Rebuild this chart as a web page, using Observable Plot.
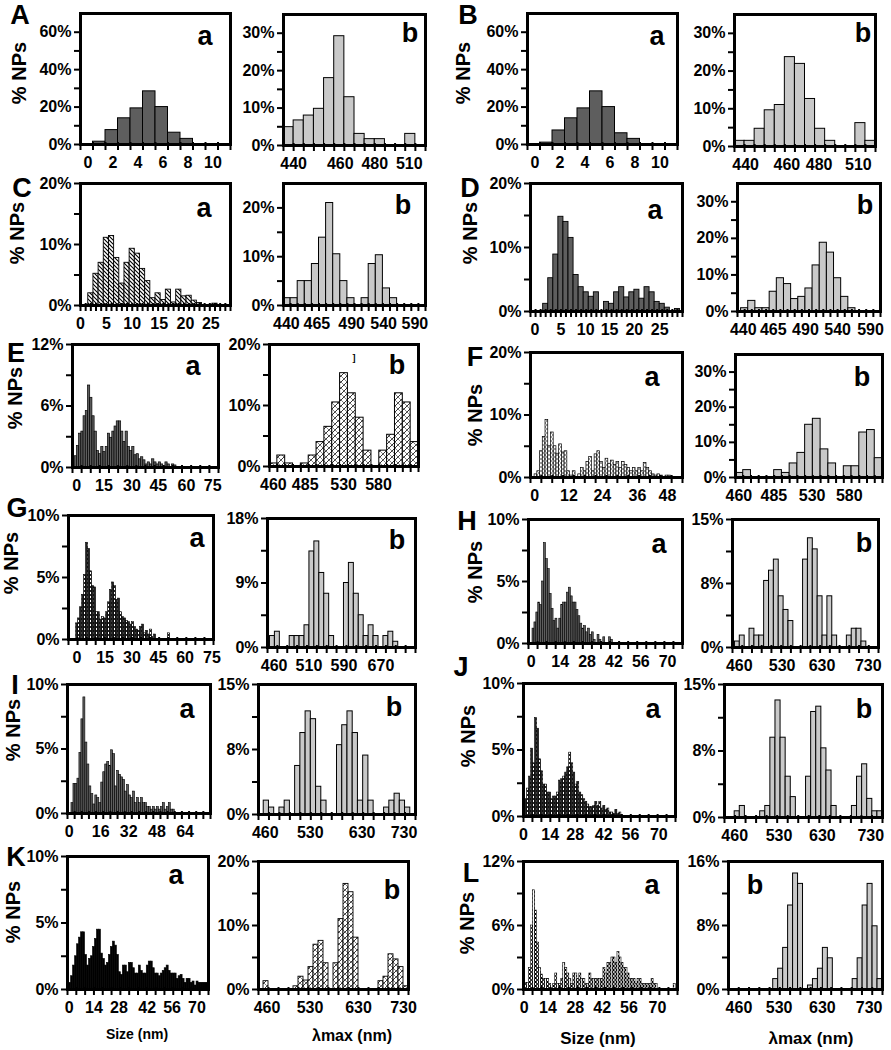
<!DOCTYPE html>
<html><head><meta charset="utf-8">
<script src="https://cdn.jsdelivr.net/npm/d3@7"></script>
<script src="https://cdn.jsdelivr.net/npm/@observablehq/plot@0.6"></script>
<style>
body{margin:0;background:#fff;}
#fig{position:relative;width:891px;height:1050px;background:#fff;font-family:"Liberation Sans",Arial,sans-serif;font-weight:bold;color:#000;overflow:hidden}
.lbl{position:absolute;transform:translate(-50%,-50%);white-space:nowrap;line-height:1}
.ylab{position:absolute;transform:translate(-50%,-50%) rotate(-90deg);white-space:nowrap;line-height:1;font-size:20px}
.panel{position:absolute}
</style></head><body>
<svg width="0" height="0" style="position:absolute">
<defs>
<pattern id="hatch" patternUnits="userSpaceOnUse" width="4" height="4">
<rect width="4" height="4" fill="#fff"/>
<path d="M-1,-1L5,5M3,-1L5,1M-1,3L1,5" stroke="#000" stroke-width="1.1"/>
</pattern>
<pattern id="cross" patternUnits="userSpaceOnUse" width="6" height="6">
<rect width="6" height="6" fill="#fff"/>
<path d="M-1,7L7,-1M-1,1L1,-1M5,7L7,5" stroke="#000" stroke-width="0.8"/>
<path d="M0,0L6,6" stroke="#000" stroke-width="0.5"/>
</pattern>
<pattern id="check" patternUnits="userSpaceOnUse" width="4" height="4">
<rect width="4" height="4" fill="#fff"/>
<rect x="0" y="0" width="2" height="2" fill="#9a9a9a"/>
<rect x="2" y="2" width="2" height="2" fill="#9a9a9a"/>
</pattern>
<pattern id="brick" patternUnits="userSpaceOnUse" width="3" height="4">
<rect width="3" height="4" fill="#222"/>
<rect x="1" y="1" width="1" height="2" fill="#fff"/>
</pattern>
<pattern id="brickL" patternUnits="userSpaceOnUse" width="3" height="4">
<rect width="3" height="4" fill="#fff"/>
<rect x="0" y="0" width="1" height="2" fill="#000"/>
<rect x="2" y="2" width="1" height="2" fill="#333"/>
</pattern>
</defs>
</svg>
<div id="fig"></div>
<script>
// ---- values: % of NPs per histogram bin ----
const A_size = [1.5, 7.7, 14, 19.3, 28.4, 20, 6.3, 3];
const A_lmax = [4.9, 6.7, 8, 9.8, 18, 29.2, 12.9, 3.1, 1.7, 1.7, 0, 0, 3.1];
const B_size = [1, 7.5, 14, 19.3, 28.4, 20, 6, 3];
const B_lmax = [1.5, 1.5, 4.7, 9.6, 11, 23.7, 21.9, 12.6, 4.7, 1.5, 0, 0, 6.2, 1.5];
const C_size = [2, 5.2, 7, 11.1, 11.4, 7.8, 3.6, 7, 9.3, 8.5, 6, 4, 1.2, 2, 0.9, 2.6, 0.5, 2.6, 1.5, 1.6, 0.8, 0.4, 0, 0, 0.3];
const C_lmax = [1.5, 1.5, 5, 5, 8.5, 13.9, 21, 10.5, 5, 1.5, 0, 1.5, 8.5, 10.3, 3.5, 1.5];
const D_size = [1.2, 5.2, 8.9, 14.8, 14, 11.5, 5.7, 3.8, 3, 2.3, 3, 0, 1.5, 1.2, 3, 3.8, 2.2, 3, 3.4, 2, 3.8, 3, 1.5, 1.2, 0.6, 0, 0.4];
const D_lmax = [0.9, 2.9, 0.9, 0.9, 5.4, 9.1, 7.5, 3.4, 4, 6.3, 12.6, 18.8, 16.1, 9.1, 4, 0.9];
const E_size = [1.1, 2.1, 3.3, 3.5, 5, 5.5, 8, 6.8, 5, 3.5, 1.6, 1.3, 2, 1.5, 2, 3.3, 2.9, 3.5, 4, 4.5, 4.5, 3.5, 2.5, 3.5, 2, 1.6, 2, 1.2, 1.3, 0.8, 1, 0.7, 0.3, 0.5, 0.3, 0.8, 0.5, 0.3, 0.5, 0.3, 0, 0.5, 0.3, 0, 0.3, 0.2];
const E_lmax = [0.5, 1.8, 0.5, 0, 0.5, 1.8, 4, 6.5, 10.5, 15.3, 12, 8, 2.6, 0, 2.6, 5.2, 12, 10.5, 4];
const F_size = [0.5, 1, 4.2, 6.5, 9.2, 5, 7.2, 5, 3.8, 5.3, 4, 4.2, 1, 0.3, 1, 0, 0.5, 1.5, 1, 2.5, 3.3, 1, 3.7, 4.2, 2.5, 1.5, 3, 2.2, 2.7, 2, 2.5, 1.5, 2.5, 2, 1.5, 1, 1.5, 1, 1.5, 1, 2.3, 1.5, 1, 0.5, 0.3, 0.5, 0.3, 0, 0.3, 0.3];
const F_lmax = [1.3, 2.1, 0, 0, 0, 2.1, 1.3, 4, 7, 15, 16.7, 8, 4, 0, 3.2, 3.2, 12.8, 13.5, 5.5];
const G_size = [1.3, 1.7, 2.6, 3.6, 5.2, 7.8, 7.3, 5.5, 4.3, 4.2, 2.2, 2.2, 1.6, 1.8, 1.7, 2.2, 3, 4, 4.6, 4.3, 3.2, 3.3, 2.2, 1.8, 1.7, 1.5, 1.4, 1.2, 1.4, 1, 0.8, 0.7, 1, 1.2, 0.5, 0.7, 0.4, 0.8, 0.2, 0.4, 0, 0, 0, 0, 0, 0, 0.5];
const G_lmax = [1.6, 2.2, 0, 0, 1.6, 1.6, 1.6, 3.1, 13.4, 14.8, 10.4, 7.5, 1.6, 0, 0, 9, 11.8, 7.5, 4.5, 1.6, 3.1, 1.6, 0, 1.6, 2.2, 0.8];
const H_size = [1.2, 1.7, 2.5, 3.3, 3.1, 5, 8.1, 6.8, 6, 4, 2.8, 1.8, 2, 1.2, 2, 3.1, 3.3, 3.3, 4.1, 4.5, 3.8, 3.3, 3.3, 2.7, 2.2, 1.6, 1.2, 1.4, 0.9, 1.2, 0.7, 0.9, 0.3, 0, 0.7, 0.3, 0, 0.5, 0, 0, 0.5, 0.3];
const H_lmax = [0.7, 1.4, 0, 2.2, 1.4, 1.4, 7.8, 9, 10.3, 6, 4.4, 3.1, 0, 0, 10.3, 12.8, 11.5, 6, 1.4, 6, 1.4, 0, 0, 1.4, 2.2, 2.2, 0.7];
const I_size = [0.8, 2.3, 2.3, 2.7, 4.7, 7.3, 9, 5.5, 3.8, 2.1, 1.5, 0.7, 1.4, 1.2, 0.8, 2.4, 3.2, 3.8, 4, 3.7, 4.9, 4.6, 2.1, 3.3, 3, 2.8, 2.6, 1.7, 2.2, 1.4, 1.2, 1.7, 0.8, 1.2, 0.8, 1.2, 0.8, 0.8, 0.5, 0.5, 0.3, 0.5, 0.3, 0.5, 0.3, 0.5, 0.8, 0.3, 0.5, 0.8, 0.3, 0.3];
const I_lmax = [0, 1.6, 0.8, 0, 0.8, 1.6, 0, 5.6, 9.4, 11.9, 11, 3.2, 1.6, 0, 0, 8, 10.3, 11.9, 9.4, 1.6, 6.8, 1.6, 0, 0, 0.8, 1.6, 2.4, 1.6, 0.8];
const J_size = [1.3, 2.1, 3, 5.1, 4, 7.4, 6.6, 4.3, 3.4, 2.4, 2.4, 1.8, 1.8, 1.3, 1.5, 1.5, 1.8, 2.7, 2.8, 3, 3.3, 3.7, 4.8, 4, 3.3, 2.4, 2.6, 1.8, 1.6, 1.3, 1.1, 0.9, 0.7, 0.7, 0.8, 1.1, 0.8, 1.1, 0.6, 0.8, 0.5, 0.6, 0.3, 0.3, 0.2, 0.5, 0.2, 0.3];
const J_lmax = [0, 0, 0.7, 1.3, 0, 0, 0, 0.7, 1.3, 9, 13.2, 9, 4.6, 2.3, 0, 0, 4.6, 11.9, 12.5, 7.8, 5.3, 1.3, 0, 0, 0, 1.3, 4.6, 6, 2.1, 0.7, 0.7];
const K_size = [0.5, 1, 1.8, 2.5, 3.4, 3.9, 4.3, 4.3, 2.6, 1.8, 2.3, 2.5, 3.2, 3.8, 4.5, 4.5, 2.7, 2.3, 1.8, 2, 2.6, 3.2, 3.6, 3.3, 2.6, 1.3, 1.1, 1.8, 1.8, 1.3, 2, 2, 1.6, 1.2, 1.2, 1.8, 1.4, 1.2, 1.2, 1.8, 2.1, 2.1, 1.6, 1.2, 1.2, 1, 1.2, 1.4, 1.6, 1.8, 1.4, 1.2, 1.2, 1.2, 0.8, 1, 1.1, 0.8, 0.5, 0.8, 0.8, 0.5, 0.6, 0.3, 0.6, 0.5, 0.5, 0.5, 0.5, 0.5];
const K_lmax = [0, 1.3, 0, 0, 0, 0, 0, 0.5, 2, 1.4, 3.5, 7, 7.6, 4.1, 0, 4.1, 11, 16.5, 15.2, 8.1, 0, 0, 0, 0, 1.3, 2, 5.5, 4.7, 3.5, 0.5];
const L_size = [0.6, 0.6, 2, 6, 9.3, 7.4, 4.4, 2, 1.4, 1, 1, 1, 0.5, 0, 0.5, 1.5, 0.5, 0.5, 1, 2.5, 2, 1.5, 1, 0.5, 1.5, 1.5, 1, 1.5, 1, 1, 0.5, 0.5, 1.5, 1, 1, 1, 1, 1, 1, 2, 1.5, 2.5, 2.5, 3, 3, 2.5, 3.5, 3, 2.5, 2, 2, 1.5, 1, 1, 1, 0.5, 1, 1, 0.5, 0.5, 0.5, 0.5, 0.5, 1, 0.5, 0.5, 0, 0, 0, 0, 0, 0, 0, 0, 0.5];
const L_lmax = [0, 0, 0, 0, 0, 0, 0, 0, 0, 1.3, 2.6, 5.2, 10.5, 14.5, 13.2, 0, 0.5, 1.3, 2.6, 5.2, 3.9, 0, 0, 0, 0, 1.3, 3.9, 10.5, 13.2, 7.9, 1.3];

// ---- tick labels ----
const sizeTicks10 = ["0", "2", "4", "6", "8", "10"];
const sizeTicks25 = ["0", "5", "10", "15", "20", "25"];
const sizeTicks75 = ["0", "15", "30", "45", "60", "75"];
const sizeTicks48 = ["0", "12", "24", "36", "48"];
const sizeTicks70 = ["0", "14", "28", "42", "56", "70"];
const sizeTicks64 = ["0", "16", "32", "48", "64"];
const lmaxTicks510 = ["440", "460", "480", "510"];
const lmaxTicks590 = ["440", "465", "490", "540", "590"];
const lmaxTicks580 = ["460", "485", "530", "580"];
const lmaxTicks670 = ["460", "510", "590", "670"];
const lmaxTicks730 = ["460", "530", "630", "730"];
const pct70 = ["0%", "20%", "40%", "60%"];
const pct35 = ["0%", "10%", "20%", "30%"];
const pct20 = ["0%", "10%", "20%"];
const pct12 = ["0%", "6%", "12%"];
const pct10 = ["0%", "5%", "10%"];
const pct18 = ["0%", "9%", "18%"];
const pct15 = ["0%", "8%", "15%"];
const pct16 = ["0%", "8%", "16%"];

// ---- layout (pixel frames, bin geometry in bin units, fills) ----
const FILL = {dark: "#5e5e5e", light: "#c9c9c9", hatch: "url(#hatch)", cross: "url(#cross)", check: "url(#check)", brick: "url(#brick)", brickL: "url(#brickL)", black: "#000"};
const Y70 = {ymax: 70, ymaj: [0, 20, 40, 60], ymin: [10, 30, 50], yt: pct70};
const Y35 = {ymax: 35, ymaj: [0, 10, 20, 30], ymin: [5, 15, 25], yt: pct35};
const Y20 = {ymax: 20, ymaj: [0, 10, 20], ymin: [5, 15], yt: pct20};
const Y25 = {ymax: 25, ymaj: [0, 10, 20], ymin: [5, 15], yt: pct20};
const Y12 = {ymax: 12, ymaj: [0, 6, 12], ymin: [3, 9], yt: pct12};
const Y10 = {ymax: 10, ymaj: [0, 5, 10], ymin: [2.5, 7.5], yt: pct10};
const Y18 = {ymax: 18, ymaj: [0, 9, 18], ymin: [4.5, 13.5], yt: pct18};
const Y15 = {ymax: 15, ymaj: [0, 7.5, 15], ymin: [3.75, 11.25], yt: pct15};
const Y16 = {ymax: 16, ymaj: [0, 8, 16], ymin: [4, 12], yt: pct16};

const panels = [
  {h: A_size, frame: [80, 13, 230, 144], D: 12, x0: 1, nt: 12, xt: sizeTicks10, xp: [0.6, 2.6, 4.6, 6.6, 8.6, 10.6], ...Y70, fill: "dark", sw: 1},
  {h: A_lmax, frame: [283, 14, 425, 145], D: 14, x0: 0, nt: 14, xt: lmaxTicks510, xp: [1.0, 5.6, 9.0, 12.4], ...Y35, fill: "light", sw: 1},
  {h: B_size, frame: [527, 13, 677, 144], D: 12, x0: 1, nt: 12, xt: sizeTicks10, xp: [0.6, 2.6, 4.6, 6.6, 8.6, 10.6], ...Y70, fill: "dark", sw: 1},
  {h: B_lmax, frame: [734, 14, 875, 146], D: 14, x0: 0, nt: 14, xt: lmaxTicks510, xp: [1.1, 5.2, 8.4, 12.3], ...Y35, fill: "light", sw: 1},
  {h: C_size, frame: [80, 183, 230, 305], D: 29, x0: 1.5, nt: 29, xt: sizeTicks25, xp: [0, 5, 10, 15.2, 20.3, 25.2], ...Y20, fill: "hatch", sw: 0.9},
  {h: C_lmax, frame: [283, 183, 425, 305], D: 20, x0: 0, nt: 20, xt: lmaxTicks590, xp: [0.4, 4.7, 9.6, 14.1, 18.5], ...Y25, fill: "light", sw: 1},
  {h: D_size, frame: [530, 183, 682, 311], D: 30, x0: 2.5, nt: 30, xt: sizeTicks25, xp: [0.9, 6, 10.9, 15.6, 20.5, 25.5], ...Y20, fill: "dark", sw: 0.9},
  {h: D_lmax, frame: [737, 183, 880, 311], D: 20, x0: 0.5, nt: 20, xt: lmaxTicks590, xp: [0.8, 5, 9.5, 14, 18.6], ...Y35, fill: "light", sw: 1},
  {h: E_size, frame: [72, 344, 218, 467], D: 66, x0: 1, nt: 16, xt: sizeTicks75, xp: [1.9, 14.2, 26.9, 38.8, 51.5, 63.4], ...Y12, fill: "dark", sw: 0.7},
  {h: E_lmax, frame: [269, 344, 418, 466], D: 19, x0: 0, nt: 19, xt: lmaxTicks580, xp: [0.5, 4.55, 9.45, 13.9], ...Y20, fill: "cross", sw: 1},
  {h: F_size, frame: [530, 352, 682, 477], D: 55.7, x0: 1.5, nt: 14, xt: sizeTicks48, xp: [1.5, 14.1, 26.3, 39.2, 50.2], ...Y20, fill: "check", sw: 0.7},
  {h: F_lmax, frame: [735, 354, 882, 477], D: 19, x0: 0, nt: 19, xt: lmaxTicks580, xp: [0.43, 4.96, 9.9, 14.7], ...Y35, fill: "light", sw: 1},
  {h: G_size, frame: [68, 515, 213, 639], D: 72.5, x0: 3.8, nt: 16, xt: sizeTicks75, xp: [4.2, 18.3, 31.7, 45, 58.3, 71.7], ...Y10, fill: "brick", sw: 0.6},
  {h: G_lmax, frame: [267, 518, 415, 647], D: 30, x0: 0.5, nt: 15, xt: lmaxTicks670, xp: [1.35, 8.4, 15.5, 23], ...Y18, fill: "light", sw: 1},
  {h: H_size, frame: [528, 519, 682, 643], D: 80.5, x0: 2.1, nt: 17, xt: sizeTicks70, xp: [1.4, 16.6, 30.6, 44.7, 58.7, 72.7], ...Y10, fill: "dark", sw: 0.6},
  {h: H_lmax, frame: [732, 519, 878, 647], D: 30, x0: 0.5, nt: 15, xt: lmaxTicks730, xp: [1.4, 10.2, 18.4, 27.9], ...Y15, fill: "light", sw: 1},
  {h: I_size, frame: [67, 684, 210, 813], D: 72, x0: 2, nt: 20, xt: sizeTicks64, xp: [0.8, 16.7, 30.8, 45, 59.2], ...Y10, fill: "dark", sw: 0.6},
  {h: I_lmax, frame: [258, 684, 415, 814], D: 30, x0: 0, nt: 15, xt: lmaxTicks730, xp: [1.3, 9.9, 19.8, 27.8], ...Y15, fill: "light", sw: 1},
  {h: J_size, frame: [523, 683, 675, 816], D: 75.8, x0: 0.8, nt: 17, xt: sizeTicks70, xp: [0, 13.3, 25.8, 40, 53.3, 67.5], ...Y10, fill: "brick", sw: 0.6},
  {h: J_lmax, frame: [724, 684, 882, 817], D: 31, x0: 0, nt: 15, xt: lmaxTicks730, xp: [2, 10.7, 19.2, 28.7], ...Y15, fill: "light", sw: 1},
  {h: K_size, frame: [67, 856, 208, 989], D: 70.8, x0: 0.8, nt: 16, xt: sizeTicks70, xp: [0.8, 13.3, 25.8, 40, 52.5, 65], ...Y10, fill: "black", sw: 0.6},
  {h: K_lmax, frame: [258, 861, 408, 989], D: 30, x0: 0, nt: 15, xt: lmaxTicks730, xp: [1.7, 10.3, 20, 29], ...Y20, fill: "cross", sw: 0.9},
  {h: L_size, frame: [523, 861, 677, 989], D: 76.7, x0: 0.8, nt: 17, xt: sizeTicks70, xp: [0.3, 12.2, 25.8, 39.2, 52.5, 66.7], ...Y12, fill: "brickL", sw: 0.6},
  {h: L_lmax, frame: [728, 861, 882, 989], D: 31, x0: 0, nt: 15, xt: lmaxTicks730, xp: [2.1, 10.2, 18.9, 28.3], ...Y16, fill: "light", sw: 1}
];

// HTML texts: panel letters, y titles, a/b tags, x titles
const letters = [["A",20,15],["B",468,15],["C",22,188],["D",470,188],["E",16,353],["F",475,357],["G",17,508],["H",467,521],["I",15,685],["J",461,667],["K",16,857],["L",471,873]];
const ytitles = [[19,73],[463,73],[17,233],[470,233],[15,398],[475,415],[11,563],[475,572],[13,730],[468,736],[13,912],[467,923]];
const tags = [["a",205,36],["b",410,33],["a",657,36],["b",863,33],["a",204,208],["b",403,205],["a",655,210],["b",865,205],["a",193,366],["b",397,365],["a",652,377],["b",862,377],["a",197,538],["b",397,540],["a",659,544],["b",864,543],["a",187,709],["b",394,707],["a",653,709],["b",864,709],["a",176,875],["b",392,890],["a",652,885],["b",755,885]];
const xtitles = [["Size (nm)",137,1034,14],["λmax (nm)",352,1036,16],["Size (nm)",598,1038,17],["λmax (nm)",811,1038,17]];

const fig = document.getElementById("fig");
const mL = 48, mR = 4, mT = 4, mB = 34;

for (const p of panels) {
  const [L, T, R, B] = p.frame;
  const W = R - L, H = B - T;
  const bars = p.h.map((v, i) => ({a: Math.max(0, p.x0 + i), b: Math.min(p.D, p.x0 + i + 1), v})).filter(d => d.v > 0 && d.b > d.a);
  const step = p.D / p.nt;
  const ticks = d3.range(p.nt + 1).map(i => i * step);
  const labs = p.xt.map((t, i) => ({x: p.xp[i], t}));
  const svg = Plot.plot({
    width: W + mL + mR, height: H + mT + mB,
    marginLeft: mL, marginRight: mR, marginTop: mT, marginBottom: mB,
    x: {domain: [0, p.D], axis: null},
    y: {domain: [0, p.ymax], axis: null},
    style: {background: "transparent", overflow: "visible", fontFamily: "'Liberation Sans', Arial, sans-serif", fontSize: "16px", fontWeight: "bold", color: "black"},
    marks: [
      Plot.rectY(bars, {x1: "a", x2: "b", y1: 0, y2: "v", fill: FILL[p.fill], stroke: "black", strokeWidth: p.sw}),
      Plot.ruleX(ticks, {x: d => d, y1: 0, y2: 0, insetTop: -2, insetBottom: -6, stroke: "black", strokeWidth: 2}),
      Plot.ruleY(p.ymaj.concat(p.ymin), {y: d => d, x1: 0, x2: 0, insetLeft: -6, stroke: "black", strokeWidth: 2}),
      Plot.text(p.ymaj, {y: d => d, frameAnchor: "left", dx: -9, textAnchor: "end", text: (d, i) => p.yt[i], fill: "black"}),
      Plot.text(labs, {x: "x", text: "t", frameAnchor: "bottom", dy: 23, fill: "black"}),
      Plot.frame({stroke: "black", strokeWidth: 3})
    ]
  });
  const div = document.createElement("div");
  div.className = "panel";
  div.style.left = (L - mL) + "px";
  div.style.top = (T - mT) + "px";
  div.appendChild(svg);
  fig.appendChild(div);
}

function addText(text, x, y, size, cls) {
  const d = document.createElement("div");
  d.className = cls || "lbl";
  d.style.left = x + "px"; d.style.top = y + "px";
  if (size) d.style.fontSize = size + "px";
  d.textContent = text;
  fig.appendChild(d);
}
for (const [t, x, y] of letters) addText(t, x, y, 27);
for (const [x, y] of ytitles) addText("% NPs", x, y, 20, "ylab");
for (const [t, x, y] of tags) addText(t, x, y, 27);
for (const [t, x, y, s] of xtitles) addText(t, x, y, s);
addText("]", 354, 358, 9);
addText("ˊ", 803, 866, 12);
</script>
</body></html>
